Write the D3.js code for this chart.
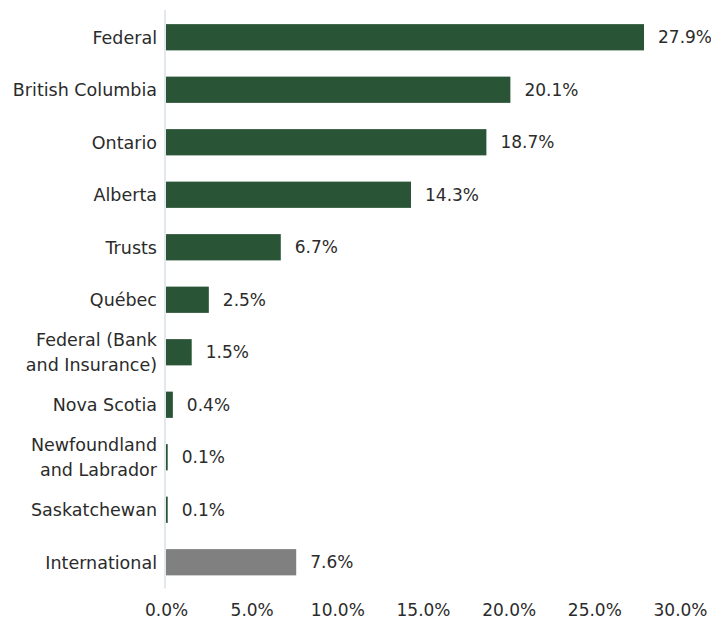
<!DOCTYPE html>
<html>
<head>
<meta charset="utf-8">
<script src="https://cdn.jsdelivr.net/npm/d3@7"></script>
<style>
body { margin: 0; background: #fff; }
text { font-family: "DejaVu Sans", sans-serif; fill: #2b2b2b; }
</style>
</head>
<body>
<script>
let width = 711;
let height = 622;

// data
let categories = [
	'Federal',
	'British Columbia',
	'Ontario',
	'Alberta',
	'Trusts',
	'Québec',
	'Federal (Bank\nand Insurance)',
	'Nova Scotia',
	'Newfoundland\nand Labrador',
	'Saskatchewan',
	'International'
];
let values = [27.9, 20.1, 18.7, 14.3, 6.7, 2.5, 1.5, 0.4, 0.1, 0.1, 7.6];
let groups = ['dom', 'dom', 'dom', 'dom', 'dom', 'dom', 'dom', 'dom', 'dom', 'dom', 'intl'];
let xTicks = [0, 5, 10, 15, 20, 25, 30];

let colors = { dom: '#2a5436', intl: '#808080' };

let svg = d3.select('body').append('svg')
	.attr('width', width)
	.attr('height', height);

let x = d3.scaleLinear()
	.domain([0, 30])
	.range([166, 680]);

let y = d3.scaleBand()
	.domain(categories)
	.range([11, 588.5])
	.paddingInner(0.5)
	.paddingOuter(0.25);

// vertical axis line
svg.append('line')
	.attr('x1', 165)
	.attr('x2', 165)
	.attr('y1', y.range()[0] - 1)
	.attr('y2', y.range()[1])
	.style('stroke', '#d9e0e8')
	.style('stroke-width', 1.5);

let rows = svg.selectAll('.row')
	.data(categories)
	.enter().append('g')
	.attr('class', 'row');

rows.append('rect')
	.attr('x', x(0))
	.attr('y', d => y(d))
	.attr('width', (d, i) => x(values[i]) - x(0))
	.attr('height', y.bandwidth())
	.style('fill', (d, i) => colors[groups[i]]);

rows.append('text')
	.attr('x', (d, i) => x(values[i]) + 14)
	.attr('y', d => y(d) + y.bandwidth() / 2)
	.attr('dy', '0.36em')
	.style('font-size', '17px')
	.text((d, i) => values[i].toFixed(1) + '%');

// category labels, possibly on two lines
rows.append('text')
	.attr('text-anchor', 'end')
	.style('font-size', '17.5px')
	.each(function (d) {
		let lines = d.split('\n');
		let cy = y(d) + y.bandwidth() / 2;
		let lh = 24.5;
		let t = d3.select(this);
		lines.forEach((line, k) => {
			t.append('tspan')
				.attr('x', 157)
				.attr('y', cy + (k - (lines.length - 1) / 2) * lh)
				.attr('dy', '0.36em')
				.text(line);
		});
	});

// bottom tick labels
let xAxis = d3.axisBottom(x)
	.tickValues(xTicks)
	.tickSize(0)
	.tickPadding(0)
	.tickFormat(d => d.toFixed(1) + '%');

let axisG = svg.append('g')
	.attr('transform', 'translate(0, 616)')
	.call(xAxis);

axisG.select('.domain').remove();
axisG.selectAll('text')
	.attr('dy', '0')
	.style('font-size', '17px')
	.style('font-family', '"DejaVu Sans", sans-serif')
	.style('fill', '#2b2b2b');
</script>
</body>
</html>
